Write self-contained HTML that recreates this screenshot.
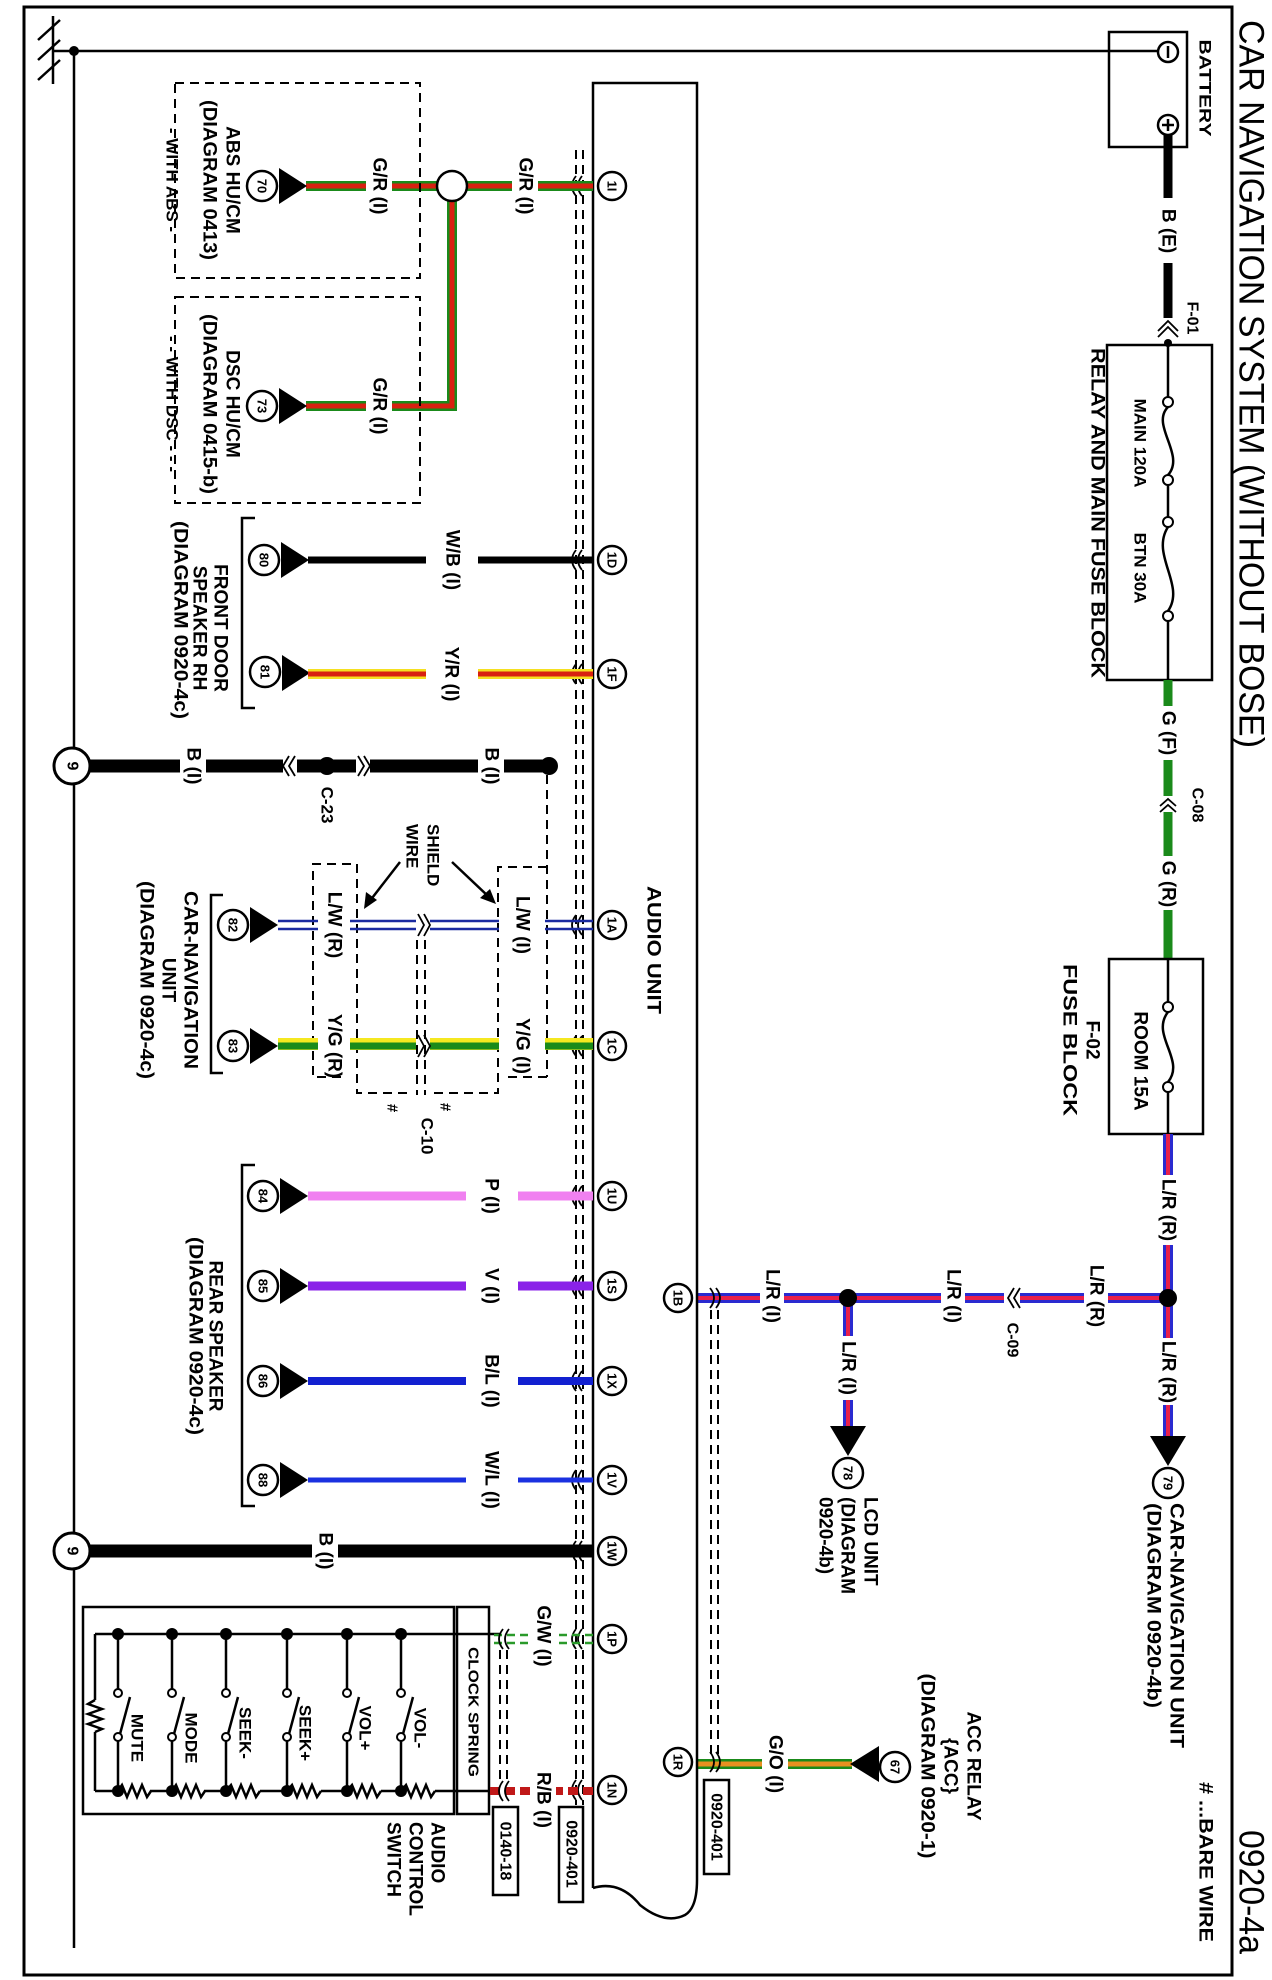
<!DOCTYPE html>
<html><head><meta charset="utf-8">
<style>
html,body{margin:0;padding:0;background:#fff;}
svg{display:block;}
text{font-family:"Liberation Sans",Arial,sans-serif;font-weight:bold;font-size:19px;fill:#000;}
.c{text-anchor:middle;dominant-baseline:central;}
.s{text-anchor:start;dominant-baseline:central;}
.n{font-size:13px;}
.ln{stroke:#000;fill:none;stroke-width:2.5;}
.dash{stroke:#000;fill:none;stroke-width:2;stroke-dasharray:9 6;}
.ch{stroke:#000;fill:none;stroke-width:1.8;}
.gap{fill:#fff;}
</style></head><body>
<svg width="1272" height="1980" viewBox="0 0 1272 1980" xmlns="http://www.w3.org/2000/svg">
<rect x="0" y="0" width="1272" height="1980" fill="#fff"/>
<!-- frame -->
<rect x="24" y="7" width="1208" height="1968" fill="none" stroke="#000" stroke-width="3"/>
<text class="s" transform="translate(1251,20) rotate(90)" style="font-size:35px;font-weight:normal" textLength="728" lengthAdjust="spacingAndGlyphs">CAR NAVIGATION SYSTEM (WITHOUT BOSE)</text>
<text class="s" transform="translate(1251,1830) rotate(90)" style="font-size:35px;font-weight:normal" textLength="124" lengthAdjust="spacingAndGlyphs">0920-4a</text>
<text class="s" transform="translate(1205,1782) rotate(90)" style="font-size:19px" textLength="160" lengthAdjust="spacingAndGlyphs"># ...BARE WIRE</text>

<!-- ground -->
<line x1="53" y1="16" x2="53" y2="84" class="ln" stroke-width="3"/>
<line x1="60" y1="20" x2="38" y2="40" class="ln"/>
<line x1="60" y1="40" x2="38" y2="60" class="ln"/>
<line x1="60" y1="60" x2="38" y2="80" class="ln"/>
<line x1="53" y1="51" x2="1158" y2="51" class="ln"/>
<line x1="74" y1="51" x2="74" y2="1948" class="ln"/>
<circle cx="74" cy="51" r="5"/>

<!-- battery -->
<rect x="1109" y="32" width="78" height="115" class="ln"/>
<circle cx="1168" cy="52" r="10" fill="#fff" stroke="#000" stroke-width="2.5"/>
<line x1="1168" y1="46" x2="1168" y2="58" class="ln"/>
<circle cx="1168" cy="125" r="10" fill="#fff" stroke="#000" stroke-width="2.5"/>
<line x1="1168" y1="119" x2="1168" y2="131" class="ln"/><line x1="1162" y1="125" x2="1174" y2="125" class="ln"/>
<text class="c" transform="translate(1205,88) rotate(90)" style="font-size:17px" textLength="97" lengthAdjust="spacingAndGlyphs">BATTERY</text>
<line x1="1168" y1="135" x2="1168" y2="198" stroke="#000" stroke-width="9"/>
<line x1="1168" y1="263" x2="1168" y2="318" stroke="#000" stroke-width="9"/>
<text class="c" transform="translate(1168,231) rotate(90)">B (E)</text>
<path d="M1158,331 L1168,321 L1178,331 M1158,337 L1168,327 L1178,337" class="ch"/>
<circle cx="1168" cy="343" r="4"/>
<text class="c" transform="translate(1192,318) rotate(90)" style="font-size:16px">F-01</text>

<!-- relay & main fuse -->
<rect x="1107" y="345" width="105" height="335" class="ln"/>
<line x1="1168" y1="343" x2="1168" y2="397" class="ln"/>
<circle cx="1168" cy="402" r="5" fill="#fff" stroke="#000" stroke-width="2"/>
<path d="M1168,407 C1150,425 1186,455 1168,475" class="ln"/>
<circle cx="1168" cy="480" r="5" fill="#fff" stroke="#000" stroke-width="2"/>
<line x1="1168" y1="485" x2="1168" y2="517" class="ln"/>
<circle cx="1168" cy="522" r="5" fill="#fff" stroke="#000" stroke-width="2"/>
<path d="M1168,527 C1150,555 1186,585 1168,611" class="ln"/>
<circle cx="1168" cy="616" r="5" fill="#fff" stroke="#000" stroke-width="2"/>
<line x1="1168" y1="621" x2="1168" y2="680" class="ln"/>
<text class="c" transform="translate(1140,443) rotate(90)" style="font-size:17px">MAIN 120A</text>
<text class="c" transform="translate(1140,568) rotate(90)" style="font-size:17px">BTN 30A</text>
<text class="c" transform="translate(1097,513) rotate(90)" textLength="330" lengthAdjust="spacingAndGlyphs">RELAY AND MAIN FUSE BLOCK</text>

<!-- green wire -->
<g stroke="#1a8a1a" stroke-width="9">
<line x1="1168" y1="680" x2="1168" y2="706"/>
<line x1="1168" y1="760" x2="1168" y2="796"/>
<line x1="1168" y1="812" x2="1168" y2="856"/>
<line x1="1168" y1="910" x2="1168" y2="959"/>
</g>
<text class="c" transform="translate(1168,733) rotate(90)">G (F)</text>
<text class="c" transform="translate(1168,884) rotate(90)">G (R)</text>
<path d="M1160,806 L1168,799 L1176,806 M1160,812 L1168,805 L1176,812" class="ch"/>
<text class="c" transform="translate(1197,805) rotate(90)" style="font-size:16px">C-08</text>

<!-- room fuse -->
<rect x="1109" y="959" width="94" height="175" class="ln"/>
<line x1="1168" y1="959" x2="1168" y2="1002" class="ln"/>
<circle cx="1168" cy="1007" r="5" fill="#fff" stroke="#000" stroke-width="2"/>
<path d="M1168,1012 C1150,1035 1186,1060 1168,1082" class="ln"/>
<circle cx="1168" cy="1087" r="5" fill="#fff" stroke="#000" stroke-width="2"/>
<line x1="1168" y1="1092" x2="1168" y2="1134" class="ln"/>
<text class="c" transform="translate(1140,1061) rotate(90)">ROOM 15A</text>
<text class="c" transform="translate(1092,1040) rotate(90)">F-02</text>
<text class="c" transform="translate(1069,1040) rotate(90)" textLength="152" lengthAdjust="spacingAndGlyphs">FUSE BLOCK</text>

<!-- L/R wires -->
<g stroke="#2a2ad0" stroke-width="10">
<line x1="1168" y1="1134" x2="1168" y2="1175"/>
<line x1="1168" y1="1245" x2="1168" y2="1338"/>
<line x1="1168" y1="1405" x2="1168" y2="1436"/>
<line x1="848" y1="1298" x2="848" y2="1336"/>
<line x1="848" y1="1400" x2="848" y2="1426"/>
<line x1="1168" y1="1298" x2="1108" y2="1298"/>
<line x1="1084" y1="1298" x2="1020" y2="1298"/>
<line x1="1004" y1="1298" x2="965" y2="1298"/>
<line x1="941" y1="1298" x2="784" y2="1298"/>
<line x1="760" y1="1298" x2="697" y2="1298"/>
</g>
<g stroke="#e8204a" stroke-width="4">
<line x1="1168" y1="1134" x2="1168" y2="1175"/>
<line x1="1168" y1="1245" x2="1168" y2="1338"/>
<line x1="1168" y1="1405" x2="1168" y2="1436"/>
<line x1="848" y1="1298" x2="848" y2="1336"/>
<line x1="848" y1="1400" x2="848" y2="1426"/>
<line x1="1168" y1="1298" x2="1108" y2="1298"/>
<line x1="1084" y1="1298" x2="1020" y2="1298"/>
<line x1="1004" y1="1298" x2="965" y2="1298"/>
<line x1="941" y1="1298" x2="784" y2="1298"/>
<line x1="760" y1="1298" x2="697" y2="1298"/>
</g>
<text class="c" transform="translate(1168,1210) rotate(90)">L/R (R)</text>
<text class="c" transform="translate(1168,1372) rotate(90)">L/R (R)</text>
<text class="c" transform="translate(848,1368) rotate(90)">L/R (I)</text>
<text class="c" transform="translate(1096,1296) rotate(90)">L/R (R)</text>
<text class="c" transform="translate(953,1296) rotate(90)">L/R (I)</text>
<text class="c" transform="translate(772,1296) rotate(90)">L/R (I)</text>
<path d="M1014,1288 L1008,1298 L1014,1308 M1020,1288 L1014,1298 L1020,1308" class="ch"/>
<text class="c" transform="translate(1012,1340) rotate(90)" style="font-size:16px">C-09</text>
<circle cx="1168" cy="1298" r="9"/><circle cx="848" cy="1298" r="9"/>
<polygon points="1150,1436 1186,1436 1168,1466"/>
<circle cx="1168" cy="1483" r="15" fill="#fff" stroke="#000" stroke-width="2.5"/>
<text class="c n" transform="translate(1168,1483) rotate(90)">79</text>
<text class="s" transform="translate(1176,1503) rotate(90)" textLength="245" lengthAdjust="spacingAndGlyphs">CAR-NAVIGATION UNIT</text>
<text class="s" transform="translate(1153,1503) rotate(90)" textLength="205" lengthAdjust="spacingAndGlyphs">(DIAGRAM 0920-4b)</text>
<polygon points="830,1426 866,1426 848,1456"/>
<circle cx="848" cy="1473" r="15" fill="#fff" stroke="#000" stroke-width="2.5"/>
<text class="c n" transform="translate(848,1473) rotate(90)">78</text>
<text class="s" transform="translate(870,1497) rotate(90)">LCD UNIT</text>
<text class="s" transform="translate(847,1497) rotate(90)">(DIAGRAM</text>
<text class="s" transform="translate(825,1497) rotate(90)">0920-4b)</text>

<!-- ACC relay -->
<g stroke="#1a8a1a" stroke-width="10"><line x1="697" y1="1764" x2="762" y2="1764"/><line x1="788" y1="1764" x2="852" y2="1764"/></g>
<g stroke="#e89020" stroke-width="5"><line x1="697" y1="1764" x2="762" y2="1764"/><line x1="788" y1="1764" x2="852" y2="1764"/></g>
<text class="c" transform="translate(775,1764) rotate(90)">G/O (I)</text>
<polygon points="850,1764 879,1746 879,1782"/>
<circle cx="895" cy="1767" r="15" fill="#fff" stroke="#000" stroke-width="2.5"/>
<text class="c n" transform="translate(895,1767) rotate(90)">67</text>
<text class="c" transform="translate(973,1766) rotate(90)">ACC RELAY</text>
<text class="c" transform="translate(950,1766) rotate(90)">{ACC}</text>
<text class="c" transform="translate(927,1766) rotate(90)" textLength="185" lengthAdjust="spacingAndGlyphs">(DIAGRAM 0920-1)</text>

<!-- audio unit -->
<path d="M593,1888 L593,83 L697,83 L697,1880 Q697,1908 685,1915 Q665,1925 640,1905 Q620,1880 593,1888" class="ln"/>
<text class="c" transform="translate(653,950) rotate(90)" textLength="128" lengthAdjust="spacingAndGlyphs">AUDIO UNIT</text>
<!-- shield dashed lines -->
<line x1="576" y1="150" x2="576" y2="1805" class="dash" stroke-width="1.6"/>
<line x1="583" y1="150" x2="583" y2="1805" class="dash" stroke-width="1.6"/>
<line x1="711" y1="1310" x2="711" y2="1760" class="dash" stroke-width="1.6"/>
<line x1="718" y1="1310" x2="718" y2="1760" class="dash" stroke-width="1.6"/>
<rect x="559" y="1807" width="24" height="95" class="ln" stroke-width="2" fill="#fff"/>
<text class="c" transform="translate(571,1854) rotate(90)" style="font-size:16px">0920-401</text>
<rect x="704" y="1780" width="25" height="94" class="ln" stroke-width="2" fill="#fff"/>
<text class="c" transform="translate(716,1827) rotate(90)" style="font-size:16px">0920-401</text>

<!-- connector circles -->
<g fill="#fff" stroke="#000" stroke-width="2.5">
<circle cx="612" cy="186" r="14"/><circle cx="612" cy="560" r="14"/><circle cx="612" cy="674" r="14"/>
<circle cx="612" cy="925" r="14"/><circle cx="612" cy="1046" r="14"/><circle cx="612" cy="1196" r="14"/>
<circle cx="612" cy="1286" r="14"/><circle cx="612" cy="1381" r="14"/><circle cx="612" cy="1480" r="14"/>
<circle cx="612" cy="1551" r="14"/><circle cx="612" cy="1639" r="14"/><circle cx="612" cy="1790" r="14"/>
<circle cx="678" cy="1298" r="14"/><circle cx="678" cy="1762" r="14"/>
</g>
<g class="n">
<text class="c n" transform="translate(612,186) rotate(90)">1I</text>
<text class="c n" transform="translate(612,560) rotate(90)">1D</text>
<text class="c n" transform="translate(612,674) rotate(90)">1F</text>
<text class="c n" transform="translate(612,925) rotate(90)">1A</text>
<text class="c n" transform="translate(612,1046) rotate(90)">1C</text>
<text class="c n" transform="translate(612,1196) rotate(90)">1U</text>
<text class="c n" transform="translate(612,1286) rotate(90)">1S</text>
<text class="c n" transform="translate(612,1381) rotate(90)">1X</text>
<text class="c n" transform="translate(612,1480) rotate(90)">1V</text>
<text class="c n" transform="translate(612,1551) rotate(90)">1W</text>
<text class="c n" transform="translate(612,1639) rotate(90)">1P</text>
<text class="c n" transform="translate(612,1790) rotate(90)">1N</text>
<text class="c n" transform="translate(678,1298) rotate(90)">1B</text>
<text class="c n" transform="translate(678,1762) rotate(90)">1R</text>
</g>
<!-- chevrons at connectors -->
<g class="ch">
<path d="M576,176 Q568,186 576,196 M582,176 Q574,186 582,196"/>
<path d="M576,550 Q568,560 576,570 M582,550 Q574,560 582,570"/>
<path d="M576,664 Q568,674 576,684 M582,664 Q574,674 582,684"/>
<path d="M576,915 Q568,925 576,935 M582,915 Q574,925 582,935"/>
<path d="M576,1036 Q568,1046 576,1056 M582,1036 Q574,1046 582,1056"/>
<path d="M576,1186 Q568,1196 576,1206 M582,1186 Q574,1196 582,1206"/>
<path d="M576,1276 Q568,1286 576,1296 M582,1276 Q574,1286 582,1296"/>
<path d="M576,1371 Q568,1381 576,1391 M582,1371 Q574,1381 582,1391"/>
<path d="M576,1470 Q568,1480 576,1490 M582,1470 Q574,1480 582,1490"/>
<path d="M576,1541 Q568,1551 576,1561 M582,1541 Q574,1551 582,1561"/>
<path d="M576,1629 Q568,1639 576,1649 M582,1629 Q574,1639 582,1649"/>
<path d="M576,1780 Q568,1790 576,1800 M582,1780 Q574,1790 582,1800"/>
<path d="M710,1288 Q718,1298 710,1308 M716,1288 Q724,1298 716,1308"/>
<path d="M710,1752 Q718,1762 710,1772 M716,1752 Q724,1762 716,1772"/>
</g>

<!-- 1I G/R -->
<g stroke="#1a8a1a" stroke-width="10" fill="none">
<line x1="593" y1="186" x2="538" y2="186"/><line x1="512" y1="186" x2="467" y2="186"/>
<line x1="437" y1="186" x2="392" y2="186"/><line x1="366" y1="186" x2="306" y2="186"/>
<polyline points="452,200 452,406 392,406"/><line x1="366" y1="406" x2="306" y2="406"/>
</g>
<g stroke="#d82010" stroke-width="5" fill="none">
<line x1="593" y1="186" x2="538" y2="186"/><line x1="512" y1="186" x2="467" y2="186"/>
<line x1="437" y1="186" x2="392" y2="186"/><line x1="366" y1="186" x2="306" y2="186"/>
<polyline points="452,200 452,406 392,406"/><line x1="366" y1="406" x2="306" y2="406"/>
</g>
<circle cx="452" cy="186" r="15" fill="#fff" stroke="#000" stroke-width="2.5"/>
<text class="c" transform="translate(525,186) rotate(90)">G/R (I)</text>
<text class="c" transform="translate(379,186) rotate(90)">G/R (I)</text>
<text class="c" transform="translate(379,406) rotate(90)">G/R (I)</text>
<rect x="175" y="83" width="245" height="195" class="dash"/>
<rect x="175" y="297" width="245" height="206" class="dash"/>

<!-- generic end circles & arrows -->
<g fill="#fff" stroke="#000" stroke-width="2.5">
<circle cx="262" cy="186" r="15"/><circle cx="262" cy="406" r="15"/><circle cx="264" cy="560" r="15"/>
<circle cx="265" cy="672" r="15"/><circle cx="233" cy="925" r="15"/><circle cx="233" cy="1046" r="15"/>
<circle cx="263" cy="1196" r="15"/><circle cx="263" cy="1286" r="15"/><circle cx="263" cy="1381" r="15"/><circle cx="263" cy="1480" r="15"/>
</g>
<g>
<polygon points="279,168 279,204 307,186"/><polygon points="279,388 279,424 307,406"/>
<polygon points="281,542 281,578 309,560"/><polygon points="282,655 282,691 310,673"/>
<polygon points="250,907 250,943 278,925"/><polygon points="250,1028 250,1064 278,1046"/>
<polygon points="280,1178 280,1214 308,1196"/><polygon points="280,1268 280,1304 308,1286"/>
<polygon points="280,1363 280,1399 308,1381"/><polygon points="280,1462 280,1498 308,1480"/>
</g>
<text class="c n" transform="translate(262,186) rotate(90)">70</text>
<text class="c n" transform="translate(262,406) rotate(90)">73</text>
<text class="c n" transform="translate(264,560) rotate(90)">80</text>
<text class="c n" transform="translate(265,672) rotate(90)">81</text>
<text class="c n" transform="translate(233,925) rotate(90)">82</text>
<text class="c n" transform="translate(233,1046) rotate(90)">83</text>
<text class="c n" transform="translate(263,1196) rotate(90)">84</text>
<text class="c n" transform="translate(263,1286) rotate(90)">85</text>
<text class="c n" transform="translate(263,1381) rotate(90)">86</text>
<text class="c n" transform="translate(263,1480) rotate(90)">88</text>

<text class="c" transform="translate(232,180) rotate(90)">ABS HU/CM</text>
<text class="c" transform="translate(209,180) rotate(90)" textLength="160" lengthAdjust="spacingAndGlyphs">(DIAGRAM 0413)</text>
<text class="c" transform="translate(172,180) rotate(90)" style="font-size:17px">- WITH ABS -</text>
<text class="c" transform="translate(232,404) rotate(90)">DSC HU/CM</text>
<text class="c" transform="translate(209,404) rotate(90)" textLength="180" lengthAdjust="spacingAndGlyphs">(DIAGRAM 0415-b)</text>
<text class="c" transform="translate(172,404) rotate(90)" style="font-size:17px">- - WITH DSC - - -</text>

<!-- 1D W/B -->
<line x1="593" y1="560" x2="478" y2="560" stroke="#000" stroke-width="7"/>
<line x1="426" y1="560" x2="308" y2="560" stroke="#000" stroke-width="7"/>
<text class="c" transform="translate(452,560) rotate(90)">W/B (I)</text>
<!-- 1F Y/R -->
<g stroke="#f5e020" stroke-width="10"><line x1="593" y1="674" x2="478" y2="674"/><line x1="426" y1="674" x2="308" y2="674"/></g>
<g stroke="#d82010" stroke-width="5"><line x1="593" y1="674" x2="478" y2="674"/><line x1="426" y1="674" x2="308" y2="674"/></g>
<text class="c" transform="translate(451,674) rotate(90)">Y/R (I)</text>
<path d="M255,518 H242 V708 H255" class="ln"/>
<text class="c" transform="translate(220,628) rotate(90)">FRONT DOOR</text>
<text class="c" transform="translate(199,628) rotate(90)">SPEAKER RH</text>
<text class="c" transform="translate(180,620) rotate(90)" textLength="198" lengthAdjust="spacingAndGlyphs">(DIAGRAM 0920-4c)</text>

<!-- B(I) ground 9 at 766 -->
<g stroke="#000" stroke-width="13">
<line x1="90" y1="766" x2="180" y2="766"/><line x1="206" y1="766" x2="283" y2="766"/>
<line x1="297" y1="766" x2="356" y2="766"/><line x1="370" y1="766" x2="478" y2="766"/>
<line x1="504" y1="766" x2="549" y2="766"/>
</g>
<path d="M289,756 L283,766 L289,776 M295,756 L289,766 L295,776" class="ch" stroke-width="2.2"/>
<path d="M358,756 L364,766 L358,776 M364,756 L370,766 L364,776" class="ch" stroke-width="2.2"/>
<circle cx="327" cy="766" r="9"/><circle cx="549" cy="766" r="9"/>
<text class="c" transform="translate(193,766) rotate(90)">B (I)</text>
<text class="c" transform="translate(491,766) rotate(90)">B (I)</text>
<text class="c" transform="translate(327,805) rotate(90)" style="font-size:17px">C-23</text>
<circle cx="72" cy="766" r="18" fill="#fff" stroke="#000" stroke-width="3"/>
<text class="c" transform="translate(72,766) rotate(90)" style="font-size:16px">9</text>

<!-- shield region -->
<line x1="547" y1="775" x2="547" y2="1077" class="dash"/>
<polyline points="547,867 498,867 498,1093 433,1093" class="dash"/>
<polyline points="407,1093 357,1093 357,864 313,864 313,1077 345,1077" class="dash"/>
<line x1="547" y1="1077" x2="507" y2="1077" class="dash"/>
<line x1="417" y1="940" x2="417" y2="1095" class="dash" stroke-width="1.6"/>
<line x1="425" y1="940" x2="425" y2="1095" class="dash" stroke-width="1.6"/>
<g stroke="#1a2aa0" stroke-width="2.5">
<line x1="593" y1="921" x2="545" y2="921"/><line x1="593" y1="929" x2="545" y2="929"/>
<line x1="499" y1="921" x2="430" y2="921"/><line x1="499" y1="929" x2="430" y2="929"/>
<line x1="416" y1="921" x2="350" y2="921"/><line x1="416" y1="929" x2="350" y2="929"/>
<line x1="318" y1="921" x2="278" y2="921"/><line x1="318" y1="929" x2="278" y2="929"/>
</g>
<g stroke="#f5e820" stroke-width="12">
<line x1="593" y1="1044" x2="545" y2="1044"/><line x1="499" y1="1044" x2="430" y2="1044"/>
<line x1="416" y1="1044" x2="350" y2="1044"/><line x1="318" y1="1044" x2="278" y2="1044"/>
</g>
<g stroke="#1a8a1a" stroke-width="7">
<line x1="593" y1="1046" x2="545" y2="1046"/><line x1="499" y1="1046" x2="430" y2="1046"/>
<line x1="416" y1="1046" x2="350" y2="1046"/><line x1="318" y1="1046" x2="278" y2="1046"/>
</g>
<path d="M418,914 L424,925 L418,936 M424,914 L430,925 L424,936" class="ch"/>
<path d="M418,1035 L424,1046 L418,1057 M424,1035 L430,1046 L424,1057" class="ch"/>
<text class="c" transform="translate(522,925) rotate(90)">L/W (I)</text>
<text class="c" transform="translate(334,925) rotate(90)">L/W (R)</text>
<text class="c" transform="translate(522,1046) rotate(90)">Y/G (I)</text>
<text class="c" transform="translate(334,1046) rotate(90)">Y/G (R)</text>
<text class="s" transform="translate(433,824) rotate(90)" style="font-size:17px">SHIELD</text>
<text class="s" transform="translate(412,824) rotate(90)" style="font-size:17px">WIRE</text>
<line x1="452" y1="862" x2="489" y2="897" stroke="#000" stroke-width="2.5"/>
<polygon points="496,904 480,898 490,889"/>
<line x1="400" y1="862" x2="369" y2="902" stroke="#000" stroke-width="2.5"/>
<polygon points="364,909 366,892 377,900"/>
<text class="c" transform="translate(392,1108) rotate(90)" style="font-size:15px">#</text>
<text class="c" transform="translate(445,1107) rotate(90)" style="font-size:15px">#</text>
<text class="c" transform="translate(427,1136) rotate(90)" style="font-size:17px">C-10</text>
<path d="M223,895 H211 V1073 H223" class="ln"/>
<text class="c" transform="translate(190,980) rotate(90)" textLength="178" lengthAdjust="spacingAndGlyphs">CAR-NAVIGATION</text>
<text class="c" transform="translate(168,980) rotate(90)">UNIT</text>
<text class="c" transform="translate(146,980) rotate(90)" textLength="198" lengthAdjust="spacingAndGlyphs">(DIAGRAM 0920-4c)</text>

<!-- rear speakers -->
<g stroke-width="9">
<line x1="593" y1="1196" x2="518" y2="1196" stroke="#f080f0"/><line x1="466" y1="1196" x2="308" y2="1196" stroke="#f080f0"/>
<line x1="593" y1="1286" x2="518" y2="1286" stroke="#8a22e8"/><line x1="466" y1="1286" x2="308" y2="1286" stroke="#8a22e8"/>
<line x1="593" y1="1381" x2="518" y2="1381" stroke="#1220d0" stroke-width="8"/><line x1="466" y1="1381" x2="308" y2="1381" stroke="#1220d0" stroke-width="8"/>
<line x1="593" y1="1480" x2="518" y2="1480" stroke="#1a30e0" stroke-width="5"/><line x1="466" y1="1480" x2="308" y2="1480" stroke="#1a30e0" stroke-width="5"/>
</g>
<text class="c" transform="translate(491,1196) rotate(90)">P (I)</text>
<text class="c" transform="translate(491,1286) rotate(90)">V (I)</text>
<text class="c" transform="translate(491,1381) rotate(90)">B/L (I)</text>
<text class="c" transform="translate(491,1480) rotate(90)">W/L (I)</text>
<path d="M255,1165 H242 V1506 H255" class="ln"/>
<text class="c" transform="translate(215,1336) rotate(90)">REAR SPEAKER</text>
<text class="c" transform="translate(195,1336) rotate(90)" textLength="198" lengthAdjust="spacingAndGlyphs">(DIAGRAM 0920-4c)</text>

<!-- 1W B -->
<line x1="593" y1="1551" x2="338" y2="1551" stroke="#000" stroke-width="13"/>
<line x1="312" y1="1551" x2="90" y2="1551" stroke="#000" stroke-width="13"/>
<text class="c" transform="translate(325,1551) rotate(90)">B (I)</text>
<circle cx="72" cy="1551" r="18" fill="#fff" stroke="#000" stroke-width="3"/>
<text class="c" transform="translate(72,1551) rotate(90)" style="font-size:16px">9</text>

<!-- audio control switch -->
<rect x="83" y="1607" width="371" height="207" class="ln"/>
<rect x="457" y="1607" width="32" height="207" class="ln"/>
<text class="c" transform="translate(473,1712) rotate(90)" style="font-size:15px" textLength="130" lengthAdjust="spacingAndGlyphs">CLOCK SPRING</text>
<line x1="95" y1="1634" x2="500" y2="1634" class="ln"/>
<line x1="95" y1="1634" x2="95" y2="1700" class="ln"/>
<path d="M95,1700 l-7,4 l14,5 l-14,5 l14,5 l-14,5 l14,5 l-7,3" class="ln"/>
<line x1="95" y1="1732" x2="95" y2="1791" class="ln"/>
<path d="M95,1791 H118 M118,1791 l4,-6 l5,12 l5,-12 l5,12 l5,-12 l5,12 l4,-6 M150,1791 H172 l4,-6 l5,12 l5,-12 l5,12 l5,-12 l5,12 l4,-6 M204,1791 H226 l5,-6 l5,12 l5,-12 l5,12 l5,-12 l5,12 l4,-6 M260,1791 H287 l5,-6 l5,12 l5,-12 l5,12 l5,-12 l5,12 l4,-6 M321,1791 H347 l5,-6 l5,12 l5,-12 l5,12 l5,-12 l5,12 l4,-6 M381,1791 H401 l5,-6 l5,12 l5,-12 l5,12 l5,-12 l5,12 l4,-6 M435,1791 H500" class="ln"/>
<g class="ln">
<path d="M118,1634 V1689 M118,1741 V1791 M130,1697 L120,1734"/>
<path d="M172,1634 V1689 M172,1741 V1791 M184,1697 L174,1734"/>
<path d="M226,1634 V1689 M226,1741 V1791 M238,1697 L228,1734"/>
<path d="M287,1634 V1689 M287,1741 V1791 M299,1697 L289,1734"/>
<path d="M347,1634 V1689 M347,1741 V1791 M359,1697 L349,1734"/>
<path d="M401,1634 V1689 M401,1741 V1791 M413,1697 L403,1734"/>
</g>
<g fill="#fff" stroke="#000" stroke-width="2">
<circle cx="118" cy="1693" r="4"/><circle cx="118" cy="1737" r="4"/>
<circle cx="172" cy="1693" r="4"/><circle cx="172" cy="1737" r="4"/>
<circle cx="226" cy="1693" r="4"/><circle cx="226" cy="1737" r="4"/>
<circle cx="287" cy="1693" r="4"/><circle cx="287" cy="1737" r="4"/>
<circle cx="347" cy="1693" r="4"/><circle cx="347" cy="1737" r="4"/>
<circle cx="401" cy="1693" r="4"/><circle cx="401" cy="1737" r="4"/>
</g>
<g>
<circle cx="118" cy="1634" r="6"/><circle cx="172" cy="1634" r="6"/><circle cx="226" cy="1634" r="6"/>
<circle cx="287" cy="1634" r="6"/><circle cx="347" cy="1634" r="6"/><circle cx="401" cy="1634" r="6"/>
<circle cx="118" cy="1791" r="6"/><circle cx="172" cy="1791" r="6"/><circle cx="226" cy="1791" r="6"/>
<circle cx="287" cy="1791" r="6"/><circle cx="347" cy="1791" r="6"/><circle cx="401" cy="1791" r="6"/>
</g>
<text class="c" transform="translate(137,1738) rotate(90)" style="font-size:17px">MUTE</text>
<text class="c" transform="translate(191,1738) rotate(90)" style="font-size:17px">MODE</text>
<text class="c" transform="translate(245,1733) rotate(90)" style="font-size:17px">SEEK-</text>
<text class="c" transform="translate(305,1733) rotate(90)" style="font-size:17px">SEEK+</text>
<text class="c" transform="translate(365,1728) rotate(90)" style="font-size:17px">VOL+</text>
<text class="c" transform="translate(420,1728) rotate(90)" style="font-size:17px">VOL-</text>
<text class="s" transform="translate(437,1822) rotate(90)">AUDIO</text>
<text class="s" transform="translate(415,1822) rotate(90)">CONTROL</text>
<text class="s" transform="translate(393,1822) rotate(90)">SWITCH</text>

<!-- 1P G/W, 1N R/B -->
<g stroke="#2a9a2a" stroke-width="2.5" stroke-dasharray="8 5">
<line x1="593" y1="1635" x2="489" y2="1635"/><line x1="593" y1="1643" x2="489" y2="1643"/>
</g>
<line x1="530" y1="1639" x2="556" y2="1639" stroke="#fff" stroke-width="12"/>
<text class="c" transform="translate(543,1636) rotate(90)">G/W (I)</text>
<g stroke-width="8">
<line x1="593" y1="1791" x2="556" y2="1791" stroke="#c01818" stroke-dasharray="10 5"/>
<line x1="530" y1="1791" x2="489" y2="1791" stroke="#c01818" stroke-dasharray="10 5"/>
</g>
<text class="c" transform="translate(543,1800) rotate(90)">R/B (I)</text>
<line x1="500" y1="1650" x2="500" y2="1780" class="dash" stroke-width="1.6"/>
<line x1="507" y1="1650" x2="507" y2="1780" class="dash" stroke-width="1.6"/>
<path d="M503,1629 Q495,1639 503,1649 M509,1629 Q501,1639 509,1649" class="ch"/>
<path d="M503,1781 Q495,1791 503,1801 M509,1781 Q501,1791 509,1801" class="ch"/>
<rect x="493" y="1807" width="25" height="88" class="ln" stroke-width="2" fill="#fff"/>
<text class="c" transform="translate(505,1851) rotate(90)" style="font-size:16px">0140-18</text>
</svg>
</body></html>
